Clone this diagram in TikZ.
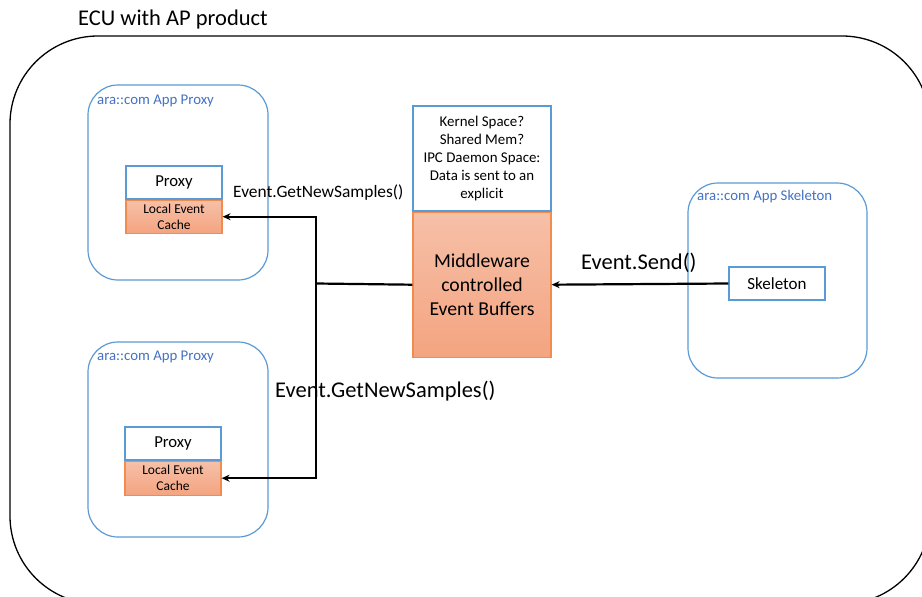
\documentclass[tikz,border=0pt]{standalone}
\usepackage{fontspec}
\setmainfont{Carlito}
\usetikzlibrary{positioning,arrows.meta}

\definecolor{grpblue}{RGB}{91,155,213}
\definecolor{lblblue}{RGB}{68,114,196}
\definecolor{bufedge}{RGB}{240,140,80}
\definecolor{buftop}{RGB}{246,192,168}
\definecolor{bufbot}{RGB}{244,164,128}

\tikzset{
	group/.style={draw=grpblue, line width=1.2pt, rounded corners=30pt, inner sep=0pt},
	grouplabel/.style={anchor=west, text=lblblue, inner sep=0pt, font=\fontsize{14.8}{17}\selectfont},
	whitebox/.style={draw=grpblue, line width=1.2pt, fill=white, inner sep=0pt, align=center},
	orangebox/.style={draw=bufedge, line width=1.2pt, top color=buftop, bottom color=bufbot, inner sep=0pt, align=center},
	conn/.style={line width=2.2pt},
	arrow/.style={conn, -{Stealth[length=8pt, width=7pt]}},
	calllabel/.style={inner sep=0pt, anchor=west}
}

\begin{document}
\begin{tikzpicture}[x=1pt, y=-1pt]

	% ---- frame

	\useasboundingbox (0,0) rectangle (922,597);
	\clip (0,0) rectangle (922,597);
	\fill[white] (0,0) rectangle (922,597);

	% ---- ECU

	\draw[line width=1.3pt, rounded corners=88pt] (10,36) rectangle (930,604);
	\node[calllabel, font=\fontsize{22.5}{27}\selectfont] (ecu) at (78,20) {ECU with AP product};

	% ---- application groups

	\node[group, minimum width=180pt, minimum height=195pt] (grpA) at (178,182.5) {};
	\node[group, minimum width=180pt, minimum height=195pt] (grpB) at (178,439.5) {};
	\node[group, minimum width=179pt, minimum height=195pt] (grpS) at (777.5,280.5) {};

	\node[grouplabel] (lblA) at (97,101) {ara::com App Proxy};
	\node[grouplabel] (lblB) at (97,357) {ara::com App Proxy};
	\node[grouplabel] (lblS) at (697,197) {ara::com App Skeleton};

	% ---- proxies

	\node[whitebox, minimum width=96pt, minimum height=33pt, font=\fontsize{16.7}{20}\selectfont] (proxyA) at (174,182.5) {Proxy};
	\node[orangebox, minimum width=96pt, minimum height=33pt, font=\fontsize{13.5}{16}\selectfont, below=0pt of proxyA] (cacheA) {Local Event\\Cache};

	\node[whitebox, minimum width=96pt, minimum height=33pt, font=\fontsize{16.7}{20}\selectfont] (proxyB) at (173,443.5) {Proxy};
	\node[orangebox, minimum width=96pt, minimum height=34pt, font=\fontsize{13.5}{16}\selectfont, below=0pt of proxyB] (cacheB) {Local Event\\Cache};

	% ---- middleware

	\node[whitebox, minimum width=138pt, minimum height=105pt, font=\fontsize{14.9}{18}\selectfont] (kernel) at (482,158.5)
		{Kernel Space?\\Shared Mem?\\IPC Daemon Space:\\Data is sent to an\\explicit};
	\node[orangebox, minimum width=138pt, minimum height=145pt, font=\fontsize{19.7}{24}\selectfont, below=0pt of kernel] (buffers)
		{Middleware\\controlled\\Event Buffers};

	% ---- skeleton

	\node[whitebox, minimum width=96pt, minimum height=33pt, font=\fontsize{17}{20}\selectfont] (skel) at (777,283.5) {Skeleton};

	% ---- connectors

	\coordinate (J) at (316,283.5);

	\draw[arrow] (skel.west) -- (buffers.east);
	\draw[conn] (buffers.west) -- (J);
	\draw[arrow] (J) |- (cacheA.east);
	\draw[arrow] (J) |- (cacheB.east);

	% ---- call labels

	\node[calllabel, font=\fontsize{22.5}{27}\selectfont] (send) at (581,263) {Event.Send()};
	\node[calllabel, font=\fontsize{17.4}{21}\selectfont] (getA) at (233,193) {Event.GetNewSamples()};
	\node[calllabel, font=\fontsize{22.5}{27}\selectfont] (getB) at (275,391) {Event.GetNewSamples()};

\end{tikzpicture}
\end{document}
